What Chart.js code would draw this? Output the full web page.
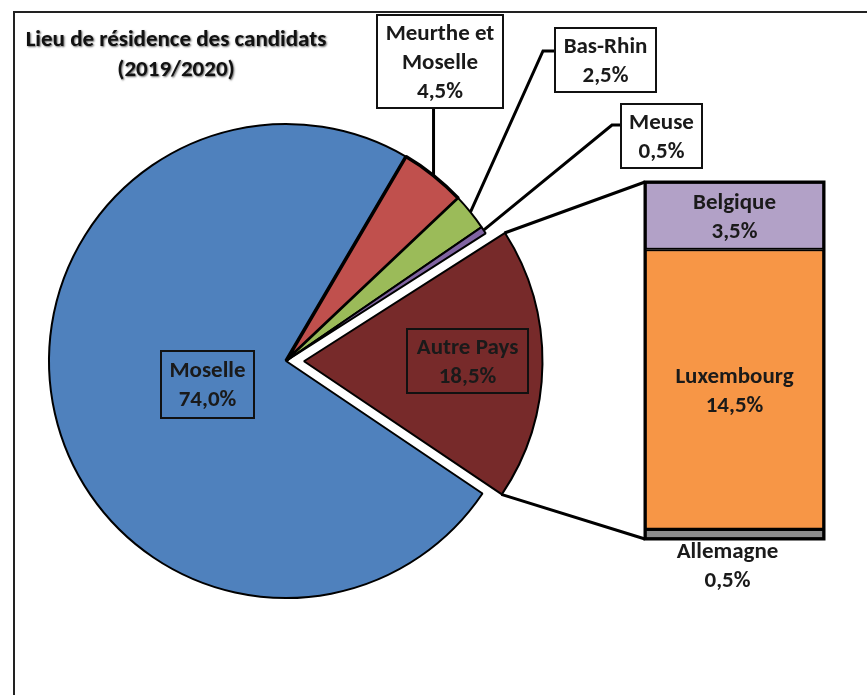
<!DOCTYPE html>
<html><head><meta charset="utf-8">
<script src="https://cdn.jsdelivr.net/npm/chart.js@4/dist/chart.umd.min.js"></script>
<style>
html,body{margin:0;padding:0;background:#fff;}
#wrap{position:relative;width:867px;height:695px;overflow:hidden;background:#fff;}
canvas{position:absolute;left:0;top:0;}
#frame{position:absolute;left:13px;top:11px;width:900px;height:800px;border-top:2px solid #222;border-left:2px solid #222;}
</style></head><body>
<div id="wrap">
<div id="frame"></div>
<canvas id="pie" width="867" height="695"></canvas>
<canvas id="bar" width="867" height="695"></canvas>
</div>
<script>
// ---- data ----
const titleLines = ['Lieu de résidence des candidats', '(2019/2020)'];
const pieCategories = ['Moselle', ['Meurthe et', 'Moselle'], 'Bas-Rhin', 'Meuse', 'Autre Pays'];
const pieValues = [74.0, 4.5, 2.5, 0.5, 18.5];
const barCategories = ['Allemagne', 'Luxembourg', 'Belgique'];
const barValues = [0.5, 14.5, 3.5];

// ---- styles ----
const pieColors = ['#4F81BD', '#C0504D', '#9BBB59', '#8064A2', '#772A2A'];
const barColors = ['#8C8C8C', '#F79646', '#B2A1C7'];
const FONT = 'bold 23px Carlito, Lato, "Liberation Sans", sans-serif';
const TXT = '#1a1a1a';
const LINE_H = 29;
const fmt = v => v.toFixed(1).replace('.', ',') + '%';
const linesOf = (cat, v) => (Array.isArray(cat) ? cat : [cat]).concat([fmt(v)]);

// label box layout for pie slices (positions only)
const pieLabelLayout = [
  {box: [161, 351, 254, 418], fill: null},                                   // Moselle
  {box: [377, 15, 503, 108], fill: '#fff', leader: 'vertical'},              // Meurthe
  {box: [555, 28, 656, 92], fill: '#fff', leader: [[543, 51], [555, 51]]},   // Bas-Rhin
  {box: [621, 104, 702, 168], fill: '#fff', leader: [[612, 125], [621, 125]]}, // Meuse
  {box: [407, 329, 528, 393], fill: null}                                    // Autre Pays
];
const EXPLODE = 72; // arc offset option (v4 divides by 4 -> 18px)

function drawLines(ctx, lines, cx, cy) {
  ctx.font = FONT;
  ctx.fillStyle = TXT;
  ctx.textAlign = 'center';
  ctx.textBaseline = 'middle';
  const n = lines.length;
  lines.forEach((t, i) => ctx.fillText(t, cx, cy + (i - (n - 1) / 2) * LINE_H));
}

let barChart;

barChart = new Chart(document.getElementById('bar'), {
  type: 'bar',
  data: {
    labels: ['Autre Pays'],
    datasets: barCategories.map((c, i) => ({
      label: c, data: [barValues[i]], backgroundColor: barColors[i],
      borderColor: '#000', borderWidth: 2, borderSkipped: false,
      barPercentage: 1, categoryPercentage: 1
    }))
  },
  options: {
    responsive: false, animation: false, devicePixelRatio: 1,
    layout: {padding: {left: 645, right: 867 - 824, top: 182, bottom: 695 - 539}},
    scales: {
      x: {stacked: true, display: false},
      y: {stacked: true, display: false, min: 0, max: barValues.reduce((a, b) => a + b, 0)}
    },
    plugins: {legend: {display: false}, tooltip: {enabled: false}}
  },
  plugins: [{
    id: 'barLabels',
    afterDatasetsDraw(chart) {
      const ctx = chart.ctx;
      ctx.save();
      // outer frame of the bar
      const t = chart.getDatasetMeta(2).data[0], b = chart.getDatasetMeta(0).data[0];
      ctx.strokeStyle = '#000'; ctx.lineWidth = 3;
      ctx.strokeRect(t.x - t.width / 2, t.y, t.width, b.base - t.y);
      barCategories.forEach((c, i) => {
        const el = chart.getDatasetMeta(i).data[0];
        const lines = linesOf(c, barValues[i]);
        if (i === 0) {
          drawLines(ctx, lines, el.x - 7, el.base + 28);
        } else {
          drawLines(ctx, lines, el.x, (el.y + el.base) / 2 + 2);
        }
      });
      ctx.restore();
    }
  }]
});

const pieChart = new Chart(document.getElementById('pie'), {
  type: 'pie',
  data: {
    labels: pieCategories,
    datasets: [{
      data: pieValues, backgroundColor: pieColors, borderColor: '#000',
      borderWidth: [2, 3.5, 2, 2, 2],
      offset: [0, 0, 0, 0, EXPLODE]
    }]
  },
  options: {
    responsive: false, animation: false, devicePixelRatio: 1,
    rotation: 124, radius: 237,
    layout: {padding: {left: 0, right: 867 - 572, top: 27, bottom: 0}},
    plugins: {legend: {display: false}, tooltip: {enabled: false}}
  },
  plugins: [{
    id: 'pieDecor',
    afterDraw(chart) {
      const ctx = chart.ctx;
      const arcs = chart.getDatasetMeta(0).data;
      ctx.save();
      // title
      ctx.font = '900 23px Carlito, Lato, sans-serif';
      ctx.textAlign = 'center';
      ctx.textBaseline = 'middle';
      ctx.fillStyle = '#111';
      ctx.shadowColor = 'rgba(0,0,0,0.6)';
      ctx.shadowBlur = 2; ctx.shadowOffsetX = 1; ctx.shadowOffsetY = 1;
      ctx.fillText(titleLines[0], 176, 40);
      ctx.fillText(titleLines[1], 176, 70);
      ctx.shadowColor = 'transparent'; ctx.shadowBlur = 0; ctx.shadowOffsetX = 0; ctx.shadowOffsetY = 0;

      // connectors from exploded slice to bar
      const ap = arcs[4];
      const half = (ap.startAngle + ap.endAngle) / 2;
      const off = EXPLODE / 4;
      const ox = ap.x + Math.cos(half) * off, oy = ap.y + Math.sin(half) * off;
      const r = ap.outerRadius + 1;
      const topEl = barChart.getDatasetMeta(2).data[0];
      const botEl = barChart.getDatasetMeta(0).data[0];
      const bl = topEl.x - topEl.width / 2;
      ctx.strokeStyle = '#000';
      ctx.lineWidth = 3;
      ctx.beginPath();
      ctx.moveTo(ox + Math.cos(ap.startAngle) * r, oy + Math.sin(ap.startAngle) * r);
      ctx.lineTo(bl, topEl.y);
      ctx.moveTo(ox + Math.cos(ap.endAngle) * r, oy + Math.sin(ap.endAngle) * r);
      ctx.lineTo(bl, botEl.base);
      ctx.stroke();

      // label boxes, leaders, texts
      arcs.forEach((a, i) => {
        const L = pieLabelLayout[i];
        const [x0, y0, x1, y1] = L.box;
        if (L.leader) {
          const mid = (a.startAngle + a.endAngle) / 2;
          const ax = a.x + Math.cos(mid) * a.outerRadius;
          const ay = a.y + Math.sin(mid) * a.outerRadius;
          ctx.lineWidth = 3;
          ctx.strokeStyle = '#000';
          ctx.beginPath();
          ctx.moveTo(ax, ay);
          if (L.leader === 'vertical') {
            ctx.lineTo(ax, y1);
          } else {
            L.leader.forEach(p => ctx.lineTo(p[0], p[1]));
          }
          ctx.stroke();
        }
        if (L.fill) { ctx.fillStyle = L.fill; ctx.fillRect(x0, y0, x1 - x0, y1 - y0); }
        ctx.lineWidth = 2;
        ctx.strokeStyle = '#111';
        ctx.strokeRect(x0, y0, x1 - x0, y1 - y0);
        drawLines(ctx, linesOf(pieCategories[i], pieValues[i]), (x0 + x1) / 2, (y0 + y1) / 2 + 1.5);
      });
      ctx.restore();
    }
  }]
});
</script>
</body></html>
